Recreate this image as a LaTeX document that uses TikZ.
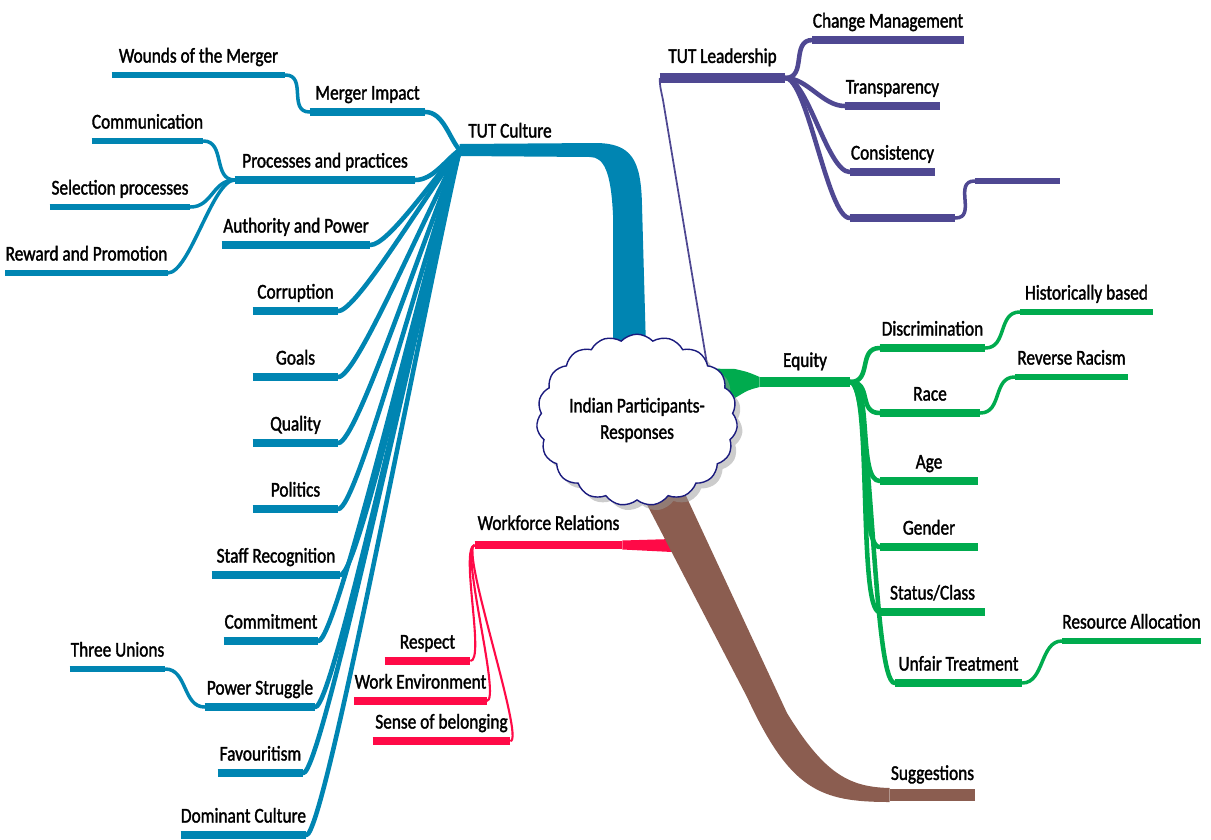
\documentclass[tikz,border=0pt]{standalone}
\usepackage{fontspec}
\setmainfont{Carlito}[FakeStretch=0.82, FakeBold=1.6]
\usetikzlibrary{calc,backgrounds,shapes.symbols,shadows}
\definecolor{cCul}{HTML}{0085B2}
\definecolor{cLead}{HTML}{4F4892}
\definecolor{cEq}{HTML}{00AB4E}
\definecolor{cWork}{HTML}{FF0A47}
\definecolor{cSug}{HTML}{8B5D50}
\definecolor{cEdge}{HTML}{1B1B7E}

\begin{document}
\begin{tikzpicture}[
  x=0.02cm, y=-0.02cm,
  font=\fontsize{12}{13}\selectfont,
  tp/.style={anchor=south, inner xsep=0pt, inner ysep=4.5pt, text height=1.6ex,
             text depth=0.5ex, minimum width=#1*0.02cm},
  t1/.style={inner ysep=6pt},
  u1/.style={line width=5.5pt},
  u2/.style={line width=4pt},
  u3/.style={line width=3pt},
  c2/.style={line width=2.6pt, line cap=round},
  c3/.style={line width=2pt, line cap=round},
  fan/.style={to path={.. controls ($(\tikztostart)+(18,0)$) and
              ($(\tikztotarget)!0.3!(\tikztostart)$) .. (\tikztotarget)}},
  sc/.style={to path={.. controls ($(\tikztostart)+(22,0)$) and
             ($(\tikztotarget)+(-22,0)$) .. (\tikztotarget)}},
  drop/.style={to path={.. controls ($(\tikztostart)+(-15,3)$) and
               ($(\tikztotarget)+(15,0)$) .. (\tikztotarget)}},
  core/.style={cloud, cloud puffs=19, cloud puff arc=95, aspect=1.2,
               draw=cEdge, line width=0.8pt, fill=white, align=center,
               inner sep=0pt, minimum width=3.4cm, minimum height=2.8cm,
               drop shadow={shadow xshift=3pt, shadow yshift=-3pt, fill=black!40}}]

\useasboundingbox (0,0) rectangle (1211,839);

% ================= TUT Culture =================
\node[tp=100] (cul) at (510,150) {TUT Culture};
\node[tp=115] (merger) at (367.5,112) {Merger Impact};
\node[tp=173] (wounds) at (198.5,75) {Wounds of the Merger};
\node[tp=180] (proc) at (325,180) {Processes and practices};
\node[tp=105] (comm) at (147.5,141) {Communication};
\node[tp=140] (selec) at (120,207) {Selection processes};
\node[tp=157] (reward) at (86.5,273) {Reward and Promotion};
\node[tp=148] (auth) at (296,245) {Authority and Power};
\node[tp=85] (corr) at (295.5,311) {Corruption};
\node[tp=85] (goals) at (295.5,377) {Goals};
\node[tp=85] (qual) at (295.5,443) {Quality};
\node[tp=85] (pol) at (295.5,509) {Politics};
\node[tp=128] (staff) at (276,575) {Staff Recognition};
\node[tp=94] (commit) at (271,641) {Commitment};
\node[tp=110] (power) at (260,707) {Power Struggle};
\node[tp=95] (unions) at (117.5,669) {Three Unions};
\node[tp=85] (fav) at (260.5,773) {Favouritism};
\node[tp=123] (dom) at (243.5,835) {Dominant Culture};

% ================= TUT Leadership =================
\node[tp=125, t1] (lead) at (722.5,78) {TUT Leadership};
\node[tp=140] (chg) at (888,40) {Change Management};
\node[tp=95] (trans) at (892.5,106) {Transparency};
\node[tp=85] (cons) at (892.5,172) {Consistency};
\node[tp=105] (lblank) at (902.5,218) {};
\node[tp=85] (lblank2) at (1017.5,181) {};

% ================= Equity =================
\node[tp=90, t1] (eq) at (805,382) {Equity};
\node[tp=105] (disc) at (932.5,348) {Discrimination};
\node[tp=133] (hist) at (1086.5,312) {Historically based};
\node[tp=100] (race) at (930,413) {Race};
\node[tp=113] (rev) at (1071.5,377) {Reverse Racism};
\node[tp=98] (age) at (929,481) {Age};
\node[tp=98] (gend) at (929,547) {Gender};
\node[tp=105] (stat) at (932.5,612) {Status/Class};
\node[tp=127] (unf) at (958.5,683) {Unfair Treatment};
\node[tp=137] (res) at (1131.5,641) {Resource Allocation};

% ================= Workforce Relations / Suggestions =================
\node[tp=147, t1] (work) at (548.5,545) {Workforce Relations};
\node[tp=85] (resp) at (427.5,661) {Respect};
\node[tp=129] (wenv) at (420.5,701) {Work Environment};
\node[tp=137] (sob) at (441.5,741) {Sense of belonging};
\node[tp=85, t1] (sug) at (932.5,795) {Suggestions};

% ---- centre ----
\node[core] (ctr) at (637,420) {Indian Participants-\\[2pt]Responses};

\begin{scope}[on background layer]
% trunk to TUT Culture
\fill[cCul] ($(cul.south west)+(0,-6)$) -- (595,143) .. controls (632,143) and (641,160) .. (642,205)
  -- ($(ctr.center)+(11,0)$) -- ($(ctr.center)+(-24,0)$) -- (613,215)
  .. controls (611,172) and (604,157) .. (590,157) -- ($(cul.south west)+(0,6)$) -- cycle;
\foreach \n in {merger,proc,auth,corr,goals,qual,pol,staff,commit,power,fav,dom}
  \draw[cCul, c2] (\n.south east) to[fan] (cul.south west);
\foreach \n in {merger,proc,auth,corr,goals,qual,pol,staff,commit,power,fav,dom}
  \draw[cCul, u2] (\n.south west) -- (\n.south east);
\draw[cCul, c3] (wounds.south east) to[sc] (merger.south west);
\draw[cCul, c3] (comm.south east) to[sc] (proc.south west);
\draw[cCul, c3] (selec.south east) to[sc] (proc.south west);
\draw[cCul, c3] (reward.south east) to[sc] (proc.south west);
\draw[cCul, c3] (unions.south east) to[sc] (power.south west);
\foreach \n in {wounds,comm,selec,reward,unions}
  \draw[cCul, u3] (\n.south west) -- (\n.south east);

% TUT Leadership
\draw[cLead, line width=1pt] ($(ctr.center)+(76,-20)$) -- (663,100) .. controls (660,86) .. (lead.south west);
\draw[cLead, u1] (lead.south west) -- (lead.south east);
\foreach \n in {chg,trans,cons,lblank}
  \draw[cLead, c2] (lead.south east) to[sc] (\n.south west);
\foreach \n in {chg,trans,cons,lblank}
  \draw[cLead, u2] (\n.south west) -- (\n.south east);
\draw[cLead, c3] (lblank.south east) to[sc] (lblank2.south west);
\draw[cLead, u3] (lblank2.south west) -- (lblank2.south east);

% Equity
\fill[cEq] ($(ctr.center)+(40,-52)$) -- (735,369) .. controls (748,372) .. ($(eq.south west)+(0,-5)$)
  -- ($(eq.south west)+(0,5)$) .. controls (748,390) .. (735,398) -- ($(ctr.center)+(40,-18)$) -- cycle;
\draw[cEq, u1] (eq.south west) -- (eq.south east);
\foreach \n in {disc,race,age,gend,stat,unf}
  \draw[cEq, c2] (eq.south east) to[sc] (\n.south west);
\foreach \n in {disc,race,age,gend,stat,unf}
  \draw[cEq, u2] (\n.south west) -- (\n.south east);
\draw[cEq, c3] (disc.south east) to[sc] (hist.south west);
\draw[cEq, c3] (race.south east) to[sc] (rev.south west);
\draw[cEq, c3] (unf.south east) to[sc] (res.south west);
\foreach \n in {hist,rev,res}
  \draw[cEq, u3] (\n.south west) -- (\n.south east);

% Workforce Relations
\fill[cWork] ($(work.south east)+(0,-4.5)$) -- (672,539) -- (672,552) -- ($(work.south east)+(0,4.5)$) -- cycle;
\draw[cWork, line width=4.5pt] (work.south west) -- (work.south east);
\foreach \n in {resp,wenv,sob}
  \draw[cWork, line width=1.2pt] (work.south west) to[drop] (\n.south east);
\foreach \n in {resp,wenv,sob}
  \draw[cWork, u2] (\n.south west) -- (\n.south east);

% Suggestions
\fill[cSug] ($(ctr.center)+(-8,50)$) -- (747,697) .. controls (790,790) and (820,802) .. ($(sug.south west)+(0,7)$)
  -- ($(sug.south west)+(0,-7)$) .. controls (850,787) and (825,775) .. (787,713)
  -- ($(ctr.center)+(37,50)$) -- cycle;
\draw[cSug, line width=6.5pt] (sug.south west) -- (sug.south east);
\end{scope}
\end{tikzpicture}
\end{document}
